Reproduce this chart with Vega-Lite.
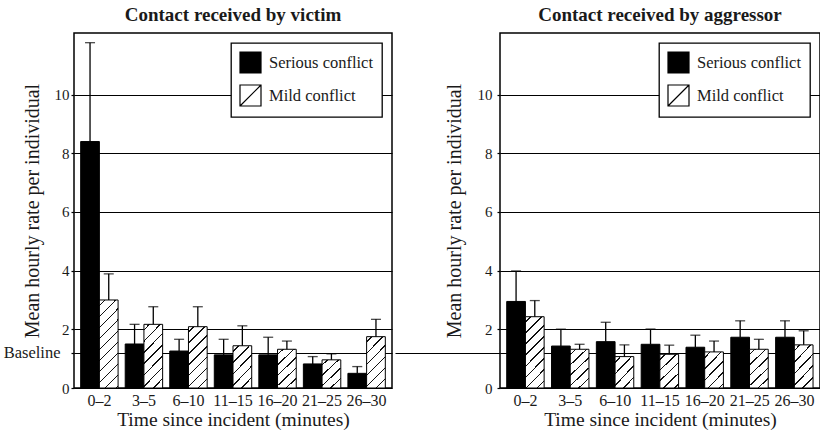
{
  "$schema": "https://vega.github.io/schema/vega-lite/v6.json",
  "background": "white",
  "padding": {"left": 2, "top": 5, "right": 0, "bottom": 0},
  "spacing": -4,
  "resolve": {"scale": {"fill": "independent"}, "legend": {"fill": "independent"}},
  "data": {"values": [
    {"panel": "victim", "time": "0–2", "series": "Serious conflict", "value": 8.4, "upper": 11.77},
    {"panel": "victim", "time": "0–2", "series": "Mild conflict", "value": 3.0, "upper": 3.89},
    {"panel": "victim", "time": "3–5", "series": "Serious conflict", "value": 1.5, "upper": 2.17},
    {"panel": "victim", "time": "3–5", "series": "Mild conflict", "value": 2.17, "upper": 2.77},
    {"panel": "victim", "time": "6–10", "series": "Serious conflict", "value": 1.26, "upper": 1.66},
    {"panel": "victim", "time": "6–10", "series": "Mild conflict", "value": 2.09, "upper": 2.77},
    {"panel": "victim", "time": "11–15", "series": "Serious conflict", "value": 1.13, "upper": 1.66},
    {"panel": "victim", "time": "11–15", "series": "Mild conflict", "value": 1.44, "upper": 2.12},
    {"panel": "victim", "time": "16–20", "series": "Serious conflict", "value": 1.13, "upper": 1.73},
    {"panel": "victim", "time": "16–20", "series": "Mild conflict", "value": 1.32, "upper": 1.6},
    {"panel": "victim", "time": "21–25", "series": "Serious conflict", "value": 0.82, "upper": 1.07},
    {"panel": "victim", "time": "21–25", "series": "Mild conflict", "value": 0.96, "upper": 1.16},
    {"panel": "victim", "time": "26–30", "series": "Serious conflict", "value": 0.5, "upper": 0.73},
    {"panel": "victim", "time": "26–30", "series": "Mild conflict", "value": 1.75, "upper": 2.34},
    {"panel": "aggressor", "time": "0–2", "series": "Serious conflict", "value": 2.95, "upper": 3.99},
    {"panel": "aggressor", "time": "0–2", "series": "Mild conflict", "value": 2.43, "upper": 2.98},
    {"panel": "aggressor", "time": "3–5", "series": "Serious conflict", "value": 1.43, "upper": 2.01},
    {"panel": "aggressor", "time": "3–5", "series": "Mild conflict", "value": 1.32, "upper": 1.49},
    {"panel": "aggressor", "time": "6–10", "series": "Serious conflict", "value": 1.58, "upper": 2.24},
    {"panel": "aggressor", "time": "6–10", "series": "Mild conflict", "value": 1.07, "upper": 1.47},
    {"panel": "aggressor", "time": "11–15", "series": "Serious conflict", "value": 1.49, "upper": 2.01},
    {"panel": "aggressor", "time": "11–15", "series": "Mild conflict", "value": 1.15, "upper": 1.46},
    {"panel": "aggressor", "time": "16–20", "series": "Serious conflict", "value": 1.39, "upper": 1.8},
    {"panel": "aggressor", "time": "16–20", "series": "Mild conflict", "value": 1.23, "upper": 1.6},
    {"panel": "aggressor", "time": "21–25", "series": "Serious conflict", "value": 1.73, "upper": 2.29},
    {"panel": "aggressor", "time": "21–25", "series": "Mild conflict", "value": 1.32, "upper": 1.66},
    {"panel": "aggressor", "time": "26–30", "series": "Serious conflict", "value": 1.73, "upper": 2.29},
    {"panel": "aggressor", "time": "26–30", "series": "Mild conflict", "value": 1.47, "upper": 1.95}
  ]},
  "hconcat": [
    {
      "width": 318, "height": 355,
      "title": {"text": "Contact received by victim"},
      "transform": [{"filter": "datum.panel == 'victim'"}],
      "encoding": {
        "x": {"field": "time", "type": "nominal", "sort": ["0–2","3–5","6–10","11–15","16–20","21–25","26–30"],
              "scale": {"paddingInner": 0.16, "paddingOuter": 0.15},
              "axis": {"title": "Time since incident (minutes)", "labelAngle": 0, "ticks": false, "domain": false, "grid": false, "labelPadding": 4, "labelFontSize": 16, "titleFontSize": 19.5, "titlePadding": 2}},
        "xOffset": {"field": "series", "type": "nominal", "sort": ["Serious conflict", "Mild conflict"], "scale": {"paddingInner": 0, "paddingOuter": 0}}
      },
      "layer": [
        {
          "mark": {"type": "bar", "stroke": "black", "strokeWidth": 1},
          "encoding": {
            "y": {"field": "value", "type": "quantitative", "scale": {"domain": [0, 12.1], "nice": false},
                  "axis": {"title": "Mean hourly rate per individual", "titleX": -42, "titleBaseline": "middle", "values": [0,2,4,6,8,10,1.2], "labelExpr": "datum.value == 1.2 ? 'Baseline' : datum.label",
                           "labelPadding": {"condition": {"test": "datum.value == 1.2", "value": 11}, "value": 2},
                           "labelFontSize": {"condition": {"test": "datum.value == 1.2", "value": 16.5}, "value": 15}}},
            "fill": {"field": "series", "type": "nominal",
              "scale": {"domain": ["Serious conflict", "Mild conflict"], "range": ["black", "white"]},
              "legend": {"title": null, "orient": "top-right", "offset": 10},
              "condition": [
                {"test": "datum.series == 'Mild conflict' && datum.value < 1.1", "value": {"gradient": "linear", "x1": 0, "y1": 0, "x2": 0.7319, "y2": 1.168, "stops": [
                  {"offset": 0, "color": "white"},
                  {"offset": 0.0963, "color": "white"}, {"offset": 0.0963, "color": "#111"}, {"offset": 0.1291, "color": "#111"}, {"offset": 0.1291, "color": "white"},
                  {"offset": 0.3217, "color": "white"}, {"offset": 0.3217, "color": "#111"}, {"offset": 0.3545, "color": "#111"}, {"offset": 0.3545, "color": "white"},
                  {"offset": 0.5471, "color": "white"}, {"offset": 0.5471, "color": "#111"}, {"offset": 0.5799, "color": "#111"}, {"offset": 0.5799, "color": "white"},
                  {"offset": 0.7725, "color": "white"}, {"offset": 0.7725, "color": "#111"}, {"offset": 0.8053, "color": "#111"}, {"offset": 0.8053, "color": "white"},
                  {"offset": 1, "color": "white"}]}},
                {"test": "datum.series == 'Mild conflict' && datum.value < 1.25", "value": {"gradient": "linear", "x1": 0, "y1": 0, "x2": 0.6407, "y2": 1.193, "stops": [
                  {"offset": 0, "color": "white"},
                  {"offset": 0.0873, "color": "white"}, {"offset": 0.0873, "color": "#111"}, {"offset": 0.1171, "color": "#111"}, {"offset": 0.1171, "color": "white"},
                  {"offset": 0.2918, "color": "white"}, {"offset": 0.2918, "color": "#111"}, {"offset": 0.3216, "color": "#111"}, {"offset": 0.3216, "color": "white"},
                  {"offset": 0.4963, "color": "white"}, {"offset": 0.4963, "color": "#111"}, {"offset": 0.5261, "color": "#111"}, {"offset": 0.5261, "color": "white"},
                  {"offset": 0.7008, "color": "white"}, {"offset": 0.7008, "color": "#111"}, {"offset": 0.7306, "color": "#111"}, {"offset": 0.7306, "color": "white"},
                  {"offset": 0.9053, "color": "white"}, {"offset": 0.9053, "color": "#111"}, {"offset": 0.9351, "color": "#111"}, {"offset": 0.9351, "color": "white"},
                  {"offset": 1, "color": "white"}]}},
                {"test": "datum.series == 'Mild conflict' && datum.value < 1.6", "value": {"gradient": "linear", "x1": 0, "y1": 0, "x2": 0.5526, "y2": 1.205, "stops": [
                  {"offset": 0, "color": "white"},
                  {"offset": 0.0786, "color": "white"}, {"offset": 0.0786, "color": "#111"}, {"offset": 0.1054, "color": "#111"}, {"offset": 0.1054, "color": "white"},
                  {"offset": 0.2625, "color": "white"}, {"offset": 0.2625, "color": "#111"}, {"offset": 0.2893, "color": "#111"}, {"offset": 0.2893, "color": "white"},
                  {"offset": 0.4465, "color": "white"}, {"offset": 0.4465, "color": "#111"}, {"offset": 0.4733, "color": "#111"}, {"offset": 0.4733, "color": "white"},
                  {"offset": 0.6304, "color": "white"}, {"offset": 0.6304, "color": "#111"}, {"offset": 0.6572, "color": "#111"}, {"offset": 0.6572, "color": "white"},
                  {"offset": 0.8144, "color": "white"}, {"offset": 0.8144, "color": "#111"}, {"offset": 0.8412, "color": "#111"}, {"offset": 0.8412, "color": "white"},
                  {"offset": 1, "color": "white"}]}},
                {"test": "datum.series == 'Mild conflict' && datum.value < 1.9", "value": {"gradient": "linear", "x1": 0, "y1": 0, "x2": 0.4441, "y2": 1.205, "stops": [
                  {"offset": 0, "color": "white"},
                  {"offset": 0.0673, "color": "white"}, {"offset": 0.0673, "color": "#111"}, {"offset": 0.0903, "color": "#111"}, {"offset": 0.0903, "color": "white"},
                  {"offset": 0.2249, "color": "white"}, {"offset": 0.2249, "color": "#111"}, {"offset": 0.2479, "color": "#111"}, {"offset": 0.2479, "color": "white"},
                  {"offset": 0.3825, "color": "white"}, {"offset": 0.3825, "color": "#111"}, {"offset": 0.4055, "color": "#111"}, {"offset": 0.4055, "color": "white"},
                  {"offset": 0.5401, "color": "white"}, {"offset": 0.5401, "color": "#111"}, {"offset": 0.5631, "color": "#111"}, {"offset": 0.5631, "color": "white"},
                  {"offset": 0.6977, "color": "white"}, {"offset": 0.6977, "color": "#111"}, {"offset": 0.7207, "color": "#111"}, {"offset": 0.7207, "color": "white"},
                  {"offset": 0.8553, "color": "white"}, {"offset": 0.8553, "color": "#111"}, {"offset": 0.8783, "color": "#111"}, {"offset": 0.8783, "color": "white"},
                  {"offset": 1, "color": "white"}]}},
                {"test": "datum.series == 'Mild conflict' && datum.value < 2.3", "value": {"gradient": "linear", "x1": 0, "y1": 0, "x2": 0.3619, "y2": 1.1935, "stops": [
                  {"offset": 0, "color": "white"},
                  {"offset": 0.0582, "color": "white"}, {"offset": 0.0582, "color": "#111"}, {"offset": 0.078, "color": "#111"}, {"offset": 0.078, "color": "white"},
                  {"offset": 0.1943, "color": "white"}, {"offset": 0.1943, "color": "#111"}, {"offset": 0.2141, "color": "#111"}, {"offset": 0.2141, "color": "white"},
                  {"offset": 0.3304, "color": "white"}, {"offset": 0.3304, "color": "#111"}, {"offset": 0.3502, "color": "#111"}, {"offset": 0.3502, "color": "white"},
                  {"offset": 0.4666, "color": "white"}, {"offset": 0.4666, "color": "#111"}, {"offset": 0.4864, "color": "#111"}, {"offset": 0.4864, "color": "white"},
                  {"offset": 0.6027, "color": "white"}, {"offset": 0.6027, "color": "#111"}, {"offset": 0.6225, "color": "#111"}, {"offset": 0.6225, "color": "white"},
                  {"offset": 0.7389, "color": "white"}, {"offset": 0.7389, "color": "#111"}, {"offset": 0.7587, "color": "#111"}, {"offset": 0.7587, "color": "white"},
                  {"offset": 0.875, "color": "white"}, {"offset": 0.875, "color": "#111"}, {"offset": 0.8948, "color": "#111"}, {"offset": 0.8948, "color": "white"},
                  {"offset": 1, "color": "white"}]}},
                {"test": "datum.series == 'Mild conflict' && datum.value < 2.7", "value": {"gradient": "linear", "x1": 0, "y1": 0, "x2": 0.313, "y2": 1.182, "stops": [
                  {"offset": 0, "color": "white"},
                  {"offset": 0.0523, "color": "white"}, {"offset": 0.0523, "color": "#111"}, {"offset": 0.0701, "color": "#111"}, {"offset": 0.0701, "color": "white"},
                  {"offset": 0.1748, "color": "white"}, {"offset": 0.1748, "color": "#111"}, {"offset": 0.1926, "color": "#111"}, {"offset": 0.1926, "color": "white"},
                  {"offset": 0.2973, "color": "white"}, {"offset": 0.2973, "color": "#111"}, {"offset": 0.3151, "color": "#111"}, {"offset": 0.3151, "color": "white"},
                  {"offset": 0.4198, "color": "white"}, {"offset": 0.4198, "color": "#111"}, {"offset": 0.4376, "color": "#111"}, {"offset": 0.4376, "color": "white"},
                  {"offset": 0.5423, "color": "white"}, {"offset": 0.5423, "color": "#111"}, {"offset": 0.5601, "color": "#111"}, {"offset": 0.5601, "color": "white"},
                  {"offset": 0.6648, "color": "white"}, {"offset": 0.6648, "color": "#111"}, {"offset": 0.6826, "color": "#111"}, {"offset": 0.6826, "color": "white"},
                  {"offset": 0.7873, "color": "white"}, {"offset": 0.7873, "color": "#111"}, {"offset": 0.8051, "color": "#111"}, {"offset": 0.8051, "color": "white"},
                  {"offset": 0.9098, "color": "white"}, {"offset": 0.9098, "color": "#111"}, {"offset": 0.9276, "color": "#111"}, {"offset": 0.9276, "color": "white"},
                  {"offset": 1, "color": "white"}]}},
                {"test": "datum.series == 'Mild conflict'", "value": {"gradient": "linear", "x1": 0, "y1": 0, "x2": 0.248, "y2": 1.161, "stops": [
                  {"offset": 0, "color": "white"},
                  {"offset": 0.044, "color": "white"}, {"offset": 0.044, "color": "#111"}, {"offset": 0.059, "color": "#111"}, {"offset": 0.059, "color": "white"},
                  {"offset": 0.147, "color": "white"}, {"offset": 0.147, "color": "#111"}, {"offset": 0.162, "color": "#111"}, {"offset": 0.162, "color": "white"},
                  {"offset": 0.25, "color": "white"}, {"offset": 0.25, "color": "#111"}, {"offset": 0.265, "color": "#111"}, {"offset": 0.265, "color": "white"},
                  {"offset": 0.353, "color": "white"}, {"offset": 0.353, "color": "#111"}, {"offset": 0.368, "color": "#111"}, {"offset": 0.368, "color": "white"},
                  {"offset": 0.456, "color": "white"}, {"offset": 0.456, "color": "#111"}, {"offset": 0.471, "color": "#111"}, {"offset": 0.471, "color": "white"},
                  {"offset": 0.559, "color": "white"}, {"offset": 0.559, "color": "#111"}, {"offset": 0.574, "color": "#111"}, {"offset": 0.574, "color": "white"},
                  {"offset": 0.662, "color": "white"}, {"offset": 0.662, "color": "#111"}, {"offset": 0.677, "color": "#111"}, {"offset": 0.677, "color": "white"},
                  {"offset": 0.765, "color": "white"}, {"offset": 0.765, "color": "#111"}, {"offset": 0.78, "color": "#111"}, {"offset": 0.78, "color": "white"},
                  {"offset": 0.868, "color": "white"}, {"offset": 0.868, "color": "#111"}, {"offset": 0.883, "color": "#111"}, {"offset": 0.883, "color": "white"},
                  {"offset": 0.971, "color": "white"}, {"offset": 0.971, "color": "#111"}, {"offset": 0.986, "color": "#111"}, {"offset": 0.986, "color": "white"},
                  {"offset": 1, "color": "white"}]}}
              ]
            }
          }
        },
        {
          "mark": {"type": "rule", "color": "black", "strokeWidth": 1.3},
          "encoding": {"y": {"field": "value", "type": "quantitative"}, "y2": {"field": "upper"}}
        },
        {
          "mark": {"type": "tick", "color": "black", "size": 10, "thickness": 1.3},
          "encoding": {"y": {"field": "upper", "type": "quantitative"}}
        }
      ]
    },
    {
      "width": 320, "height": 355,
      "title": {"text": "Contact received by aggressor"},
      "transform": [{"filter": "datum.panel == 'aggressor'"}],
      "encoding": {
        "x": {"field": "time", "type": "nominal", "sort": ["0–2","3–5","6–10","11–15","16–20","21–25","26–30"],
              "scale": {"paddingInner": 0.16, "paddingOuter": 0.15},
              "axis": {"title": "Time since incident (minutes)", "labelAngle": 0, "ticks": false, "domain": false, "grid": false, "labelPadding": 4, "labelFontSize": 16, "titleFontSize": 19.5, "titlePadding": 2}},
        "xOffset": {"field": "series", "type": "nominal", "sort": ["Serious conflict", "Mild conflict"], "scale": {"paddingInner": 0, "paddingOuter": 0}}
      },
      "layer": [
        {
          "mark": {"type": "bar", "stroke": "black", "strokeWidth": 1},
          "encoding": {
            "y": {"field": "value", "type": "quantitative", "scale": {"domain": [0, 12.1], "nice": false},
                  "axis": {"title": "Mean hourly rate per individual", "titleX": -46, "titleBaseline": "middle", "values": [0,2,4,6,8,10,1.2], "labelExpr": "datum.value == 1.2 ? '' : datum.label",
                           "tickSize": {"condition": {"test": "datum.value == 1.2", "value": 105}, "value": 3}, "labelPadding": 5}},
            "fill": {"field": "series", "type": "nominal",
              "scale": {"domain": ["Serious conflict", "Mild conflict"], "range": ["black", "white"]},
              "legend": {"title": null, "orient": "top-right", "offset": 10},
              "condition": [
                {"test": "datum.series == 'Mild conflict' && datum.value < 1.1", "value": {"gradient": "linear", "x1": 0, "y1": 0, "x2": 0.7319, "y2": 1.168, "stops": [
                  {"offset": 0, "color": "white"},
                  {"offset": 0.0963, "color": "white"}, {"offset": 0.0963, "color": "#111"}, {"offset": 0.1291, "color": "#111"}, {"offset": 0.1291, "color": "white"},
                  {"offset": 0.3217, "color": "white"}, {"offset": 0.3217, "color": "#111"}, {"offset": 0.3545, "color": "#111"}, {"offset": 0.3545, "color": "white"},
                  {"offset": 0.5471, "color": "white"}, {"offset": 0.5471, "color": "#111"}, {"offset": 0.5799, "color": "#111"}, {"offset": 0.5799, "color": "white"},
                  {"offset": 0.7725, "color": "white"}, {"offset": 0.7725, "color": "#111"}, {"offset": 0.8053, "color": "#111"}, {"offset": 0.8053, "color": "white"},
                  {"offset": 1, "color": "white"}]}},
                {"test": "datum.series == 'Mild conflict' && datum.value < 1.25", "value": {"gradient": "linear", "x1": 0, "y1": 0, "x2": 0.6407, "y2": 1.193, "stops": [
                  {"offset": 0, "color": "white"},
                  {"offset": 0.0873, "color": "white"}, {"offset": 0.0873, "color": "#111"}, {"offset": 0.1171, "color": "#111"}, {"offset": 0.1171, "color": "white"},
                  {"offset": 0.2918, "color": "white"}, {"offset": 0.2918, "color": "#111"}, {"offset": 0.3216, "color": "#111"}, {"offset": 0.3216, "color": "white"},
                  {"offset": 0.4963, "color": "white"}, {"offset": 0.4963, "color": "#111"}, {"offset": 0.5261, "color": "#111"}, {"offset": 0.5261, "color": "white"},
                  {"offset": 0.7008, "color": "white"}, {"offset": 0.7008, "color": "#111"}, {"offset": 0.7306, "color": "#111"}, {"offset": 0.7306, "color": "white"},
                  {"offset": 0.9053, "color": "white"}, {"offset": 0.9053, "color": "#111"}, {"offset": 0.9351, "color": "#111"}, {"offset": 0.9351, "color": "white"},
                  {"offset": 1, "color": "white"}]}},
                {"test": "datum.series == 'Mild conflict' && datum.value < 1.6", "value": {"gradient": "linear", "x1": 0, "y1": 0, "x2": 0.5526, "y2": 1.205, "stops": [
                  {"offset": 0, "color": "white"},
                  {"offset": 0.0786, "color": "white"}, {"offset": 0.0786, "color": "#111"}, {"offset": 0.1054, "color": "#111"}, {"offset": 0.1054, "color": "white"},
                  {"offset": 0.2625, "color": "white"}, {"offset": 0.2625, "color": "#111"}, {"offset": 0.2893, "color": "#111"}, {"offset": 0.2893, "color": "white"},
                  {"offset": 0.4465, "color": "white"}, {"offset": 0.4465, "color": "#111"}, {"offset": 0.4733, "color": "#111"}, {"offset": 0.4733, "color": "white"},
                  {"offset": 0.6304, "color": "white"}, {"offset": 0.6304, "color": "#111"}, {"offset": 0.6572, "color": "#111"}, {"offset": 0.6572, "color": "white"},
                  {"offset": 0.8144, "color": "white"}, {"offset": 0.8144, "color": "#111"}, {"offset": 0.8412, "color": "#111"}, {"offset": 0.8412, "color": "white"},
                  {"offset": 1, "color": "white"}]}},
                {"test": "datum.series == 'Mild conflict' && datum.value < 1.9", "value": {"gradient": "linear", "x1": 0, "y1": 0, "x2": 0.4441, "y2": 1.205, "stops": [
                  {"offset": 0, "color": "white"},
                  {"offset": 0.0673, "color": "white"}, {"offset": 0.0673, "color": "#111"}, {"offset": 0.0903, "color": "#111"}, {"offset": 0.0903, "color": "white"},
                  {"offset": 0.2249, "color": "white"}, {"offset": 0.2249, "color": "#111"}, {"offset": 0.2479, "color": "#111"}, {"offset": 0.2479, "color": "white"},
                  {"offset": 0.3825, "color": "white"}, {"offset": 0.3825, "color": "#111"}, {"offset": 0.4055, "color": "#111"}, {"offset": 0.4055, "color": "white"},
                  {"offset": 0.5401, "color": "white"}, {"offset": 0.5401, "color": "#111"}, {"offset": 0.5631, "color": "#111"}, {"offset": 0.5631, "color": "white"},
                  {"offset": 0.6977, "color": "white"}, {"offset": 0.6977, "color": "#111"}, {"offset": 0.7207, "color": "#111"}, {"offset": 0.7207, "color": "white"},
                  {"offset": 0.8553, "color": "white"}, {"offset": 0.8553, "color": "#111"}, {"offset": 0.8783, "color": "#111"}, {"offset": 0.8783, "color": "white"},
                  {"offset": 1, "color": "white"}]}},
                {"test": "datum.series == 'Mild conflict' && datum.value < 2.3", "value": {"gradient": "linear", "x1": 0, "y1": 0, "x2": 0.3619, "y2": 1.1935, "stops": [
                  {"offset": 0, "color": "white"},
                  {"offset": 0.0582, "color": "white"}, {"offset": 0.0582, "color": "#111"}, {"offset": 0.078, "color": "#111"}, {"offset": 0.078, "color": "white"},
                  {"offset": 0.1943, "color": "white"}, {"offset": 0.1943, "color": "#111"}, {"offset": 0.2141, "color": "#111"}, {"offset": 0.2141, "color": "white"},
                  {"offset": 0.3304, "color": "white"}, {"offset": 0.3304, "color": "#111"}, {"offset": 0.3502, "color": "#111"}, {"offset": 0.3502, "color": "white"},
                  {"offset": 0.4666, "color": "white"}, {"offset": 0.4666, "color": "#111"}, {"offset": 0.4864, "color": "#111"}, {"offset": 0.4864, "color": "white"},
                  {"offset": 0.6027, "color": "white"}, {"offset": 0.6027, "color": "#111"}, {"offset": 0.6225, "color": "#111"}, {"offset": 0.6225, "color": "white"},
                  {"offset": 0.7389, "color": "white"}, {"offset": 0.7389, "color": "#111"}, {"offset": 0.7587, "color": "#111"}, {"offset": 0.7587, "color": "white"},
                  {"offset": 0.875, "color": "white"}, {"offset": 0.875, "color": "#111"}, {"offset": 0.8948, "color": "#111"}, {"offset": 0.8948, "color": "white"},
                  {"offset": 1, "color": "white"}]}},
                {"test": "datum.series == 'Mild conflict' && datum.value < 2.7", "value": {"gradient": "linear", "x1": 0, "y1": 0, "x2": 0.313, "y2": 1.182, "stops": [
                  {"offset": 0, "color": "white"},
                  {"offset": 0.0523, "color": "white"}, {"offset": 0.0523, "color": "#111"}, {"offset": 0.0701, "color": "#111"}, {"offset": 0.0701, "color": "white"},
                  {"offset": 0.1748, "color": "white"}, {"offset": 0.1748, "color": "#111"}, {"offset": 0.1926, "color": "#111"}, {"offset": 0.1926, "color": "white"},
                  {"offset": 0.2973, "color": "white"}, {"offset": 0.2973, "color": "#111"}, {"offset": 0.3151, "color": "#111"}, {"offset": 0.3151, "color": "white"},
                  {"offset": 0.4198, "color": "white"}, {"offset": 0.4198, "color": "#111"}, {"offset": 0.4376, "color": "#111"}, {"offset": 0.4376, "color": "white"},
                  {"offset": 0.5423, "color": "white"}, {"offset": 0.5423, "color": "#111"}, {"offset": 0.5601, "color": "#111"}, {"offset": 0.5601, "color": "white"},
                  {"offset": 0.6648, "color": "white"}, {"offset": 0.6648, "color": "#111"}, {"offset": 0.6826, "color": "#111"}, {"offset": 0.6826, "color": "white"},
                  {"offset": 0.7873, "color": "white"}, {"offset": 0.7873, "color": "#111"}, {"offset": 0.8051, "color": "#111"}, {"offset": 0.8051, "color": "white"},
                  {"offset": 0.9098, "color": "white"}, {"offset": 0.9098, "color": "#111"}, {"offset": 0.9276, "color": "#111"}, {"offset": 0.9276, "color": "white"},
                  {"offset": 1, "color": "white"}]}},
                {"test": "datum.series == 'Mild conflict'", "value": {"gradient": "linear", "x1": 0, "y1": 0, "x2": 0.248, "y2": 1.161, "stops": [
                  {"offset": 0, "color": "white"},
                  {"offset": 0.044, "color": "white"}, {"offset": 0.044, "color": "#111"}, {"offset": 0.059, "color": "#111"}, {"offset": 0.059, "color": "white"},
                  {"offset": 0.147, "color": "white"}, {"offset": 0.147, "color": "#111"}, {"offset": 0.162, "color": "#111"}, {"offset": 0.162, "color": "white"},
                  {"offset": 0.25, "color": "white"}, {"offset": 0.25, "color": "#111"}, {"offset": 0.265, "color": "#111"}, {"offset": 0.265, "color": "white"},
                  {"offset": 0.353, "color": "white"}, {"offset": 0.353, "color": "#111"}, {"offset": 0.368, "color": "#111"}, {"offset": 0.368, "color": "white"},
                  {"offset": 0.456, "color": "white"}, {"offset": 0.456, "color": "#111"}, {"offset": 0.471, "color": "#111"}, {"offset": 0.471, "color": "white"},
                  {"offset": 0.559, "color": "white"}, {"offset": 0.559, "color": "#111"}, {"offset": 0.574, "color": "#111"}, {"offset": 0.574, "color": "white"},
                  {"offset": 0.662, "color": "white"}, {"offset": 0.662, "color": "#111"}, {"offset": 0.677, "color": "#111"}, {"offset": 0.677, "color": "white"},
                  {"offset": 0.765, "color": "white"}, {"offset": 0.765, "color": "#111"}, {"offset": 0.78, "color": "#111"}, {"offset": 0.78, "color": "white"},
                  {"offset": 0.868, "color": "white"}, {"offset": 0.868, "color": "#111"}, {"offset": 0.883, "color": "#111"}, {"offset": 0.883, "color": "white"},
                  {"offset": 0.971, "color": "white"}, {"offset": 0.971, "color": "#111"}, {"offset": 0.986, "color": "#111"}, {"offset": 0.986, "color": "white"},
                  {"offset": 1, "color": "white"}]}}
              ]
            }
          }
        },
        {
          "mark": {"type": "rule", "color": "black", "strokeWidth": 1.3},
          "encoding": {"y": {"field": "value", "type": "quantitative"}, "y2": {"field": "upper"}}
        },
        {
          "mark": {"type": "tick", "color": "black", "size": 10, "thickness": 1.3},
          "encoding": {"y": {"field": "upper", "type": "quantitative"}}
        }
      ]
    }
  ],
  "config": {
    "font": "Liberation Serif",
    "view": {"stroke": "black", "strokeWidth": 1.5},
    "title": {"fontSize": 19, "fontWeight": "bold", "color": "#1a1a1a", "offset": 8, "anchor": "middle"},
    "axis": {"labelColor": "#1a1a1a", "titleColor": "#1a1a1a", "titleFontWeight": "normal", "labelFont": "Liberation Serif", "titleFont": "Liberation Serif"},
    "axisY": {"grid": true, "gridColor": "black", "gridWidth": 1.2, "domain": false, "ticks": true, "tickSize": 3, "tickColor": "black", "tickWidth": 1.2, "labelFontSize": 15, "labelPadding": 2, "labelOverlap": false, "titleFontSize": 20},
    "legend": {"symbolType": "M-1,-1H1V1H-1ZM-1,1L1,-1", "symbolSize": 441, "symbolStrokeColor": "black", "symbolStrokeWidth": 1.2, "labelFontSize": 16.5, "labelFont": "Liberation Serif", "labelColor": "#1a1a1a", "rowPadding": 6, "labelOffset": 7, "padding": 8, "strokeColor": "black", "strokeWidth": 1.3, "fillColor": "white"}
  }
}
